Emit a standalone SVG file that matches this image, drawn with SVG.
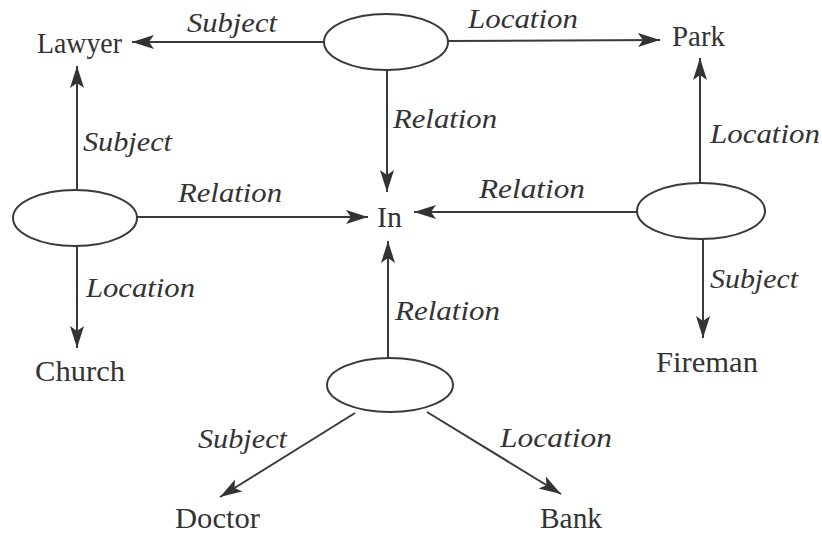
<svg xmlns="http://www.w3.org/2000/svg" width="822" height="533" viewBox="0 0 822 533">
<style>
.node{font-family:"Liberation Serif","Times New Roman",serif;font-size:29px;fill:#333}
.lbl{font-family:"Liberation Serif","Times New Roman",serif;font-style:italic;font-size:27px;fill:#333}
.ell{fill:#fff;stroke:#3a3a3a;stroke-width:2}
.edge{stroke:#3a3a3a;stroke-width:2;fill:none;marker-end:url(#arr)}
</style>
<defs>
<marker id="arr" markerUnits="userSpaceOnUse" markerWidth="24" markerHeight="16" refX="22" refY="7" orient="auto">
<path d="M0,0 L22,7 L0,14 L5,7 z" fill="#333"/>
</marker>
</defs>
<rect width="822" height="533" fill="#fff"/>
<g id="connectors">
<line class="edge" x1="325" y1="42" x2="132" y2="42"/>
<line class="edge" x1="448" y1="41" x2="660" y2="40"/>
<line class="edge" x1="387" y1="70" x2="387" y2="192"/>
<line class="edge" x1="77" y1="190" x2="77" y2="66"/>
<line class="edge" x1="137" y1="217" x2="368" y2="217"/>
<line class="edge" x1="77" y1="246" x2="77" y2="348"/>
<line class="edge" x1="637" y1="212" x2="414" y2="212"/>
<line class="edge" x1="700" y1="183" x2="700" y2="58"/>
<line class="edge" x1="703" y1="239" x2="703" y2="338"/>
<line class="edge" x1="388" y1="358" x2="388" y2="241"/>
<line class="edge" x1="355" y1="413" x2="220" y2="497"/>
<line class="edge" x1="427" y1="412" x2="561" y2="494"/>
</g>
<g id="labels">
<text class="lbl" x="187" y="32" textLength="90" lengthAdjust="spacingAndGlyphs">Subject</text>
<text class="lbl" x="468" y="28" textLength="110" lengthAdjust="spacingAndGlyphs">Location</text>
<text class="lbl" x="393" y="128" textLength="104" lengthAdjust="spacingAndGlyphs">Relation</text>
<text class="lbl" x="83" y="151" textLength="89" lengthAdjust="spacingAndGlyphs">Subject</text>
<text class="lbl" x="178" y="202" textLength="104" lengthAdjust="spacingAndGlyphs">Relation</text>
<text class="lbl" x="86" y="297" textLength="109" lengthAdjust="spacingAndGlyphs">Location</text>
<text class="lbl" x="479" y="198" textLength="106" lengthAdjust="spacingAndGlyphs">Relation</text>
<text class="lbl" x="710" y="143" textLength="110" lengthAdjust="spacingAndGlyphs">Location</text>
<text class="lbl" x="710" y="288" textLength="88" lengthAdjust="spacingAndGlyphs">Subject</text>
<text class="lbl" x="395" y="320" textLength="105" lengthAdjust="spacingAndGlyphs">Relation</text>
<text class="lbl" x="198" y="448" textLength="89" lengthAdjust="spacingAndGlyphs">Subject</text>
<text class="lbl" x="500" y="447" textLength="112" lengthAdjust="spacingAndGlyphs">Location</text>
</g>
<g id="e-top"><ellipse class="ell" cx="386" cy="42" rx="62" ry="28"/></g>
<g id="e-left"><ellipse class="ell" cx="75" cy="218" rx="62" ry="28"/></g>
<g id="e-right"><ellipse class="ell" cx="701" cy="211" rx="64" ry="28"/></g>
<g id="e-bottom"><ellipse class="ell" cx="390" cy="385" rx="63" ry="27"/></g>
<g id="n-lawyer"><text class="node" x="37" y="53" textLength="85" lengthAdjust="spacingAndGlyphs">Lawyer</text></g>
<g id="n-park"><text class="node" x="672" y="46" textLength="53" lengthAdjust="spacingAndGlyphs">Park</text></g>
<g id="n-in"><text class="node" x="377" y="227" textLength="25" lengthAdjust="spacingAndGlyphs">In</text></g>
<g id="n-church"><text class="node" x="35" y="381" textLength="90" lengthAdjust="spacingAndGlyphs">Church</text></g>
<g id="n-fireman"><text class="node" x="656" y="372" textLength="102" lengthAdjust="spacingAndGlyphs">Fireman</text></g>
<g id="n-doctor"><text class="node" x="175" y="528" textLength="85" lengthAdjust="spacingAndGlyphs">Doctor</text></g>
<g id="n-bank"><text class="node" x="540" y="528" textLength="62" lengthAdjust="spacingAndGlyphs">Bank</text></g>
</svg>
